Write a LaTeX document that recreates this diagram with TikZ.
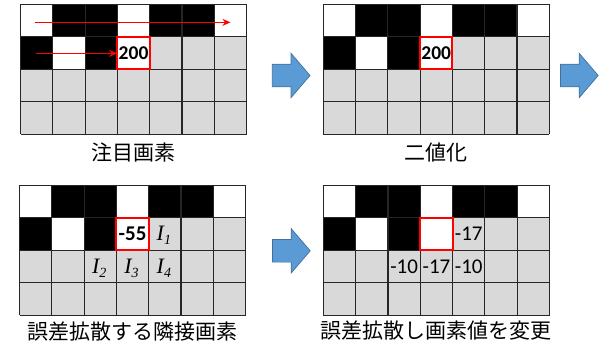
\documentclass[tikz,border=0pt]{standalone}
\usepackage{fontspec}
\setmainfont{Carlito}
\newfontfamily\jpfont{Noto Sans CJK JP}
\newfontfamily\srffont{Liberation Serif}
\usetikzlibrary{arrows.meta,calc}
\definecolor{cellgray}{HTML}{D9D9D9}
\definecolor{arrowblue}{HTML}{5B9BD5}
\definecolor{arrowedge}{HTML}{41719C}
\definecolor{boxred}{HTML}{FF0000}
\def\cw{32.3}
\def\ch{32.5}
\tikzset{
  gridline/.style={line width=1.1pt, draw=black!85},
  redbox/.style={draw=boxred, line width=2pt},
  blockarrow/.style={fill=arrowblue, draw=arrowedge, line width=0.7pt},
  scanarrow/.style={draw=boxred, line width=1.6pt, -{Stealth[length=8pt,width=7pt]}},
  labeltext/.style={font=\jpfont\fontsize{21}{24}\selectfont, inner sep=0pt},
  numtext/.style={font=\fontsize{21}{24}\selectfont, inner sep=0pt, minimum width=\cw pt, minimum height=\ch pt},
  boldnum/.style={font=\bfseries\fontsize{19.5}{22}\selectfont, inner sep=0pt, minimum width=\cw pt, minimum height=\ch pt},
  ivar/.style={font=\srffont\itshape\fontsize{22}{24}\selectfont, inner sep=0pt},
}
\newcommand\pixgrid[3]{%
  \begin{scope}[shift={(#1,#2)}]
    \fill[cellgray] (0,0) rectangle (7*\cw,4*\ch);
    \foreach \c/\f in {0/white,1/black,2/black,3/white,4/black,5/black,6/white}
      \fill[\f] (\c*\cw,0) rectangle ({(\c+1)*\cw},\ch);
    \foreach \c/\f in {0/black,1/white,2/black,3/white}
      \fill[\f] (\c*\cw,\ch) rectangle ({(\c+1)*\cw},2*\ch);
    \foreach \c in {0,...,7} \draw[gridline] (\c*\cw,0) -- (\c*\cw,4*\ch);
    \foreach \r in {0,...,4} \draw[gridline] (0,\r*\ch) -- (7*\cw,\r*\ch);
    \draw[redbox] (3*\cw,\ch) rectangle (4*\cw,2*\ch);
    \foreach \c in {0,...,6}
      \foreach \r in {0,...,3}
        \coordinate (#3-\c-\r) at ({(\c+0.5)*\cw},{(\r+0.5)*\ch});
    \coordinate (#3-mid) at (3.5*\cw,2*\ch);
  \end{scope}}
\newcommand\bluearrow[2]{%
  \draw[blockarrow, shift={(#1,#2)}] (0,-11.3) -- (18.7,-11.3) -- (18.7,-22.2) -- (37.7,0)
    -- (18.7,22.2) -- (18.7,11.3) -- (0,11.3) -- cycle;}
\newcommand\isub[2]{{\srffont\itshape #1\raisebox{-0.4ex}{\fontsize{14}{14}\selectfont #2}}}
\begin{document}
\begin{tikzpicture}[x=1pt,y=-1pt]
  \useasboundingbox (0,0) rectangle (607,349);
  % grids
  \pixgrid{20.5}{4.3}{ga}
  \pixgrid{323.2}{4.3}{gb}
  \pixgrid{19.5}{185.3}{gc}
  \pixgrid{323.4}{185.3}{gd}
  % grid a: focus pixel and scan arrows
  \node[boldnum] (va) at (ga-3-1) {200};
  \coordinate (sa1) at ($(ga-0-0)+(-1.5,1.8)$);
  \coordinate (sa2) at ($(ga-6-0)+(0,1.8)$);
  \coordinate (sb1) at ($(ga-0-1)+(-0.5,0.3)$);
  \draw[scanarrow] (sa1) -- (sa2);
  \draw[scanarrow] (sb1) -- (va.west |- sb1);
  \node[labeltext] (la) at ($(ga-mid)+(0,83.5)$) {注目画素};
  % grid b
  \node[boldnum] (vb) at (gb-3-1) {200};
  \node[labeltext] (lb) at ($(gb-mid)+(0,83.5)$) {二値化};
  % grid c
  \node[boldnum, font=\bfseries\fontsize{21}{24}\selectfont] (vc) at (gc-3-1) {-55};
  \node[ivar] (i1) at ($(gc-4-1)+(-1,1.5)$) {\isub{I}{1}};
  \node[ivar] (i2) at ($(gc-2-2)+(-1,1.5)$) {\isub{I}{2}};
  \node[ivar] (i3) at ($(gc-3-2)+(-1,1.5)$) {\isub{I}{3}};
  \node[ivar] (i4) at ($(gc-4-2)+(-1,1.5)$) {\isub{I}{4}};
  \node[labeltext] (lc) at ($(gc-mid)+(0,81)$) {誤差拡散する隣接画素};
  % grid d
  \node[numtext] (d1) at (gd-4-1) {-17};
  \node[numtext] (d2) at (gd-2-2) {-10};
  \node[numtext] (d3) at (gd-3-2) {-17};
  \node[numtext] (d4) at (gd-4-2) {-10};
  \node[labeltext] (ld) at ($(gd-mid)+(0,80)$) {誤差拡散し画素値を変更};
  % block arrows
  \bluearrow{272.3}{75.5}
  \bluearrow{560.5}{75.5}
  \bluearrow{272.5}{250.8}
\end{tikzpicture}
\end{document}
